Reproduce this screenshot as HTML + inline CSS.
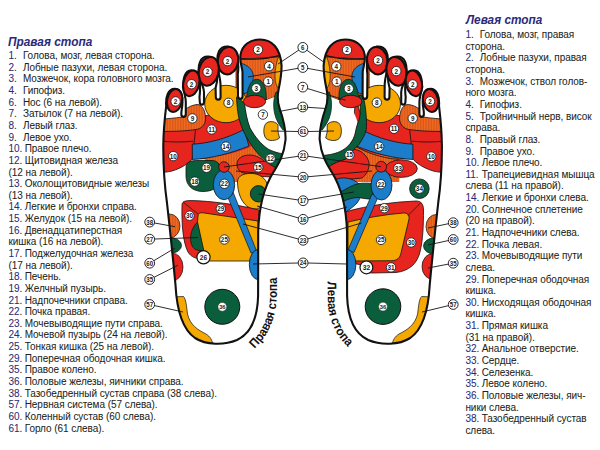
<!DOCTYPE html>
<html><head><meta charset="utf-8">
<style>
html,body{margin:0;padding:0;background:#fff;}
body{width:600px;height:450px;position:relative;overflow:hidden;font-family:"Liberation Sans",sans-serif;}
.leg{position:absolute;font-size:10px;letter-spacing:-0.05px;line-height:11.64px;color:#231f20;white-space:nowrap;-webkit-text-stroke:0.05px #231f20;}
.leg span{display:inline-block;color:#2b2a72;-webkit-text-stroke:0.05px #2b2a72;}
.leg span b{font-weight:normal;color:#231f20;-webkit-text-stroke:0.05px #231f20;}
.n1{width:14.5px;}
.n2{width:16.3px;}
.rl .n1{width:14.3px;}
.title{position:absolute;font-weight:bold;font-style:italic;font-size:13px;line-height:14px;color:#2b2a7a;white-space:nowrap;transform-origin:0 0;}
svg{position:absolute;left:0;top:0;}
</style></head><body>
<div class="title" style="left:8.3px;top:34.8px;transform:scaleX(0.912)">Правая стопа</div>
<div class="title" style="left:466px;top:12.9px;transform:scaleX(0.907)">Левая стопа</div>
<div class="leg ll" style="left:8.4px;top:50.1px">
<div><span class="n1">1<b>.</b></span>Голова, мозг, левая сторона.</div>
<div><span class="n1">2<b>.</b></span>Лобные пазухи, левая сторона.</div>
<div><span class="n1">3<b>.</b></span>Мозжечок, кора головного мозга.</div>
<div><span class="n1">4<b>.</b></span>Гипофиз.</div>
<div><span class="n1">6<b>.</b></span>Нос (6 на левой).</div>
<div><span class="n1">7<b>.</b></span>Затылок (7 на левой).</div>
<div><span class="n1">8<b>.</b></span>Левый глаз.</div>
<div><span class="n1">9<b>.</b></span>Левое ухо.</div>
<div><span class="n2">10<b>.</b></span>Правое плечо.</div>
<div><span class="n2">12<b>.</b></span>Щитовидная железа</div>
<div>(12 на левой).</div>
<div><span class="n2">13<b>.</b></span>Околощитовидные железы</div>
<div>(13 на левой).</div>
<div><span class="n2">14<b>.</b></span>Легкие и бронхи справа.</div>
<div><span class="n2">15<b>.</b></span>Желудок (15 на левой).</div>
<div><span class="n2">16<b>.</b></span>Двенадцатиперстная</div>
<div>кишка (16 на левой).</div>
<div><span class="n2">17<b>.</b></span>Поджелудочная железа</div>
<div>(17 на левой).</div>
<div><span class="n2">18<b>.</b></span>Печень.</div>
<div><span class="n2">19<b>.</b></span>Желчный пузырь.</div>
<div><span class="n2">21<b>.</b></span>Надпочечники справа.</div>
<div><span class="n2">22<b>.</b></span>Почка правая.</div>
<div><span class="n2">23<b>.</b></span>Мочевыводящие пути справа.</div>
<div><span class="n2">24<b>.</b></span>Мочевой пузырь (24 на левой).</div>
<div><span class="n2">25<b>.</b></span>Тонкая кишка (25 на левой).</div>
<div><span class="n2">29<b>.</b></span>Поперечная ободочная кишка.</div>
<div><span class="n2">35<b>.</b></span>Правое колено.</div>
<div><span class="n2">36<b>.</b></span>Половые железы, яичники справа.</div>
<div><span class="n2">38<b>.</b></span>Тазобедренный сустав справа (38 слева).</div>
<div><span class="n2">57<b>.</b></span>Нервная система (57 слева).</div>
<div><span class="n2">60<b>.</b></span>Коленный сустав (60 слева).</div>
<div><span class="n2">61<b>.</b></span>Горло (61 слева).</div>
</div>
<div class="leg rl" style="left:465.4px;top:29.1px">
<div><span class="n1">1<b>.</b></span>Голова, мозг, правая</div>
<div>сторона.</div>
<div><span class="n1">2<b>.</b></span>Лобные пазухи, правая</div>
<div>сторона.</div>
<div><span class="n1">3<b>.</b></span>Мозжечок, ствол голов-</div>
<div>ного мозга.</div>
<div><span class="n1">4<b>.</b></span>Гипофиз.</div>
<div><span class="n1">5<b>.</b></span>Тройничный нерв, висок</div>
<div>справа.</div>
<div><span class="n1">8<b>.</b></span>Правый глаз.</div>
<div><span class="n1">9<b>.</b></span>Правое ухо.</div>
<div><span class="n2">10<b>.</b></span>Левое плечо.</div>
<div><span class="n2">11<b>.</b></span>Трапециевидная мышца</div>
<div>слева (11 на правой).</div>
<div><span class="n2">14<b>.</b></span>Легкие и бронхи слева.</div>
<div><span class="n2">20<b>.</b></span>Солнечное сплетение</div>
<div>(20 на правой).</div>
<div><span class="n2">21<b>.</b></span>Надпочечники слева.</div>
<div><span class="n2">22<b>.</b></span>Почка левая.</div>
<div><span class="n2">23<b>.</b></span>Мочевыводящие пути</div>
<div>слева.</div>
<div><span class="n2">29<b>.</b></span>Поперечная ободочная</div>
<div>кишка.</div>
<div><span class="n2">30<b>.</b></span>Нисходящая ободочная</div>
<div>кишка.</div>
<div><span class="n2">31<b>.</b></span>Прямая кишка</div>
<div>(31 на правой).</div>
<div><span class="n2">32<b>.</b></span>Анальное отверстие.</div>
<div><span class="n2">33<b>.</b></span>Сердце.</div>
<div><span class="n2">34<b>.</b></span>Селезенка.</div>
<div><span class="n2">35<b>.</b></span>Левое колено.</div>
<div><span class="n2">36<b>.</b></span>Половые железы, яич-</div>
<div>ники слева.</div>
<div><span class="n2">38<b>.</b></span>Тазобедренный сустав</div>
<div>слева.</div>
</div>
<svg width="600" height="450" viewBox="0 0 600 450" font-family="Liberation Sans, sans-serif"><defs><pattern id="st" width="1.6" height="4" patternUnits="userSpaceOnUse"><rect width="1.6" height="4" fill="#f06c1e"/><rect x="1.05" width="0.55" height="4" fill="#d04a18"/></pattern><clipPath id="cR"><path d="M260,39.5 C250,39.5 242,45 240.5,55 C239.5,62 242,66 242.5,72 L242.6,96 C242.6,99.8 238,99.8 238,96 L237.8,74 C239,66 238.5,48 228,46.5 C219,46 216.5,54 217.5,64 C218,72 220.3,78 220.5,84 L220.6,97 C220.6,100.5 215.8,100.5 215.8,97 L215.6,88 C218.5,78 218.5,57.5 208.5,56.5 C200,56 197.5,65 199,75 C200,82 203.8,86 204,92 L204,102 C204,105.5 199.8,105.5 199.8,102 L199.5,97 C201,85 199.5,70.5 191.5,70.2 C185,70 182.5,79 183.5,88 C184,94 185.8,97 185.8,102 L185.8,114 C185.8,117.8 181.3,117.8 181.3,114 L181.5,111 C184,98 181.5,89 175,88.8 C168,88.6 165.5,97 166.2,106 C165,116 163.5,128 163.3,145 C163.2,162 164.5,185 167,203 C170,230 173,258 175.5,285 C176.8,310 182,329 195,338 C206,345 224,345.5 237,340 C252,333 257.5,317 258.1,296 L258.2,232 C258.8,208 263.5,188 273.5,172 C279,163 284,155 285.5,140 C286,130 283,118 279.5,108 C277.5,102 277.3,96 278.5,90 C280,83 281.5,74 281.6,66 C280.5,48 272,39.5 260,39.5 Z"/></clipPath><clipPath id="cL"><path d="M 345.2 39.5 C 355.2 39.5 363.2 45 364.7 55 C 365.7 62 363.2 66 362.7 72 L 362.6 96 C 362.6 99.8 367.2 99.8 367.2 96 L 367.4 74 C 366.2 66 366.7 48 377.2 46.5 C 386.2 46 388.7 54 387.7 64 C 387.2 72 384.9 78 384.7 84 L 384.6 97 C 384.6 100.5 389.4 100.5 389.4 97 L 389.6 88 C 386.7 78 386.7 57.5 396.7 56.5 C 405.2 56 407.7 65 406.2 75 C 405.2 82 401.4 86 401.2 92 L 401.2 102 C 401.2 105.5 405.4 105.5 405.4 102 L 405.7 97 C 404.2 85 405.7 70.5 413.7 70.2 C 420.2 70 422.7 79 421.7 88 C 421.2 94 419.4 97 419.4 102 L 419.4 114 C 419.4 117.8 423.9 117.8 423.9 114 L 423.7 111 C 421.2 98 423.7 89 430.2 88.8 C 437.2 88.6 439.7 97 439 106 C 440.2 116 441.7 128 441.9 145 C 442 162 440.7 185 438.2 203 C 435.2 230 432.2 258 429.7 285 C 428.4 310 423.2 329 410.2 338 C 399.2 345 381.2 345.5 368.2 340 C 353.2 333 347.7 317 347.1 296 L 347 232 C 346.4 208 341.7 188 331.7 172 C 326.2 163 321.2 155 319.7 140 C 319.2 130 322.2 118 325.7 108 C 327.7 102 327.9 96 326.7 90 C 325.2 83 323.7 74 323.6 66 C 324.7 48 333.2 39.5 345.2 39.5 Z"/></clipPath><path id="arcR" d="M254.5,348.5 C265,338 276.5,323 277,293 L277,260" fill="none"/><path id="arcL" d="M327.5,281.5 L327.8,300 C328,322 337,337 351,350" fill="none"/></defs><path d="M260,39.5 C250,39.5 242,45 240.5,55 C239.5,62 242,66 242.5,72 L242.6,96 C242.6,99.8 238,99.8 238,96 L237.8,74 C239,66 238.5,48 228,46.5 C219,46 216.5,54 217.5,64 C218,72 220.3,78 220.5,84 L220.6,97 C220.6,100.5 215.8,100.5 215.8,97 L215.6,88 C218.5,78 218.5,57.5 208.5,56.5 C200,56 197.5,65 199,75 C200,82 203.8,86 204,92 L204,102 C204,105.5 199.8,105.5 199.8,102 L199.5,97 C201,85 199.5,70.5 191.5,70.2 C185,70 182.5,79 183.5,88 C184,94 185.8,97 185.8,102 L185.8,114 C185.8,117.8 181.3,117.8 181.3,114 L181.5,111 C184,98 181.5,89 175,88.8 C168,88.6 165.5,97 166.2,106 C165,116 163.5,128 163.3,145 C163.2,162 164.5,185 167,203 C170,230 173,258 175.5,285 C176.8,310 182,329 195,338 C206,345 224,345.5 237,340 C252,333 257.5,317 258.1,296 L258.2,232 C258.8,208 263.5,188 273.5,172 C279,163 284,155 285.5,140 C286,130 283,118 279.5,108 C277.5,102 277.3,96 278.5,90 C280,83 281.5,74 281.6,66 C280.5,48 272,39.5 260,39.5 Z" fill="#fff"/><g clip-path="url(#cR)"><path d="M236,30 L290,30 L290,58 C275,55 255,60 236,58.5 Z" fill="#e8241e"/><path d="M236,58.5 C255,60 275,55 290,58 L290,92 L282,94 C276,96 270,99 264,101 L236,101 Z" fill="url(#st)" stroke="#111" stroke-width="0.7"/><path d="M236,58.5 C250,59.8 265,59.5 280,55.3" fill="none" stroke="#111" stroke-width="1.4"/><path d="M278.5,57 C275,66 274.5,76 275.5,82 C276.5,86 278,88.5 280,90 L288,90 L288,57 Z" fill="#f5a800" stroke="#111" stroke-width="0.6"/><path d="M240,63 C247,64.5 252.5,69 253.2,75 C253.8,82 251,88 246.5,93 L238,95 Z" fill="#1c7dcb" stroke="#111" stroke-width="0.7"/><path d="M246.5,99 C247,90 250,81 255,79.5 C261,78 265,84 266,92 L266.5,100 Z" fill="#0a5e3c" stroke="#111" stroke-width="0.7"/><path d="M158,124 L205,116 L250,104 L256,160 L193,158.5 C189,163 182,168 172,171 C168,172 163,172.5 158,173 Z" fill="#e8241e" stroke="#111" stroke-width="0.8"/><path d="M158,119.5 C165,118.8 175,118.2 182,117 L184.5,110 C188,107 193,104.5 198,104.5 C203,105.5 206,112 205.5,120 C205,125 201,129 196,129.5 C186,131 175,131.5 158,131.5 Z" fill="url(#st)" stroke="#111" stroke-width="0.8"/><path d="M160,141 C172,142.3 182,142.3 193,141.2 M195.5,130 L192.3,159" fill="none" stroke="#111" stroke-width="0.8"/><ellipse cx="226" cy="104" rx="21.3" ry="18.7" fill="#f5a800" stroke="#111" stroke-width="0.8"/><path d="M205,157 C225,156 240,152 252,146 L264,160 L262,182 L206,182 Z" fill="url(#st)"/><path d="M192.3,144.2 C207,143.5 226,139 244,129.5 L249,146 C232,153 212,158.5 192.3,159.5 Z" fill="#1c7dcb" stroke="#111" stroke-width="0.8"/><path d="M244.5,101 C245.5,112 247,120 250,128 C255,137 261,144 268,149 C272,151 279,154 290,154 L290,92 L282,94 C276,96 270,99 264,101 Z" fill="#fff"/><path d="M236.5,97 C237,108 238,116 240,122 C243,132 249,143 258,153.7 C264,160 271,165 280,171 L287,166 L287,154 C279,154 272,151 268,149 C261,144 255,137 250,128 C247,120 245.5,112 244.5,103 Z" fill="#0a5e3c" stroke="#111" stroke-width="0.8"/><ellipse cx="254.5" cy="101.5" rx="11.2" ry="6.2" fill="#e8241e" stroke="#111" stroke-width="0.8"/><path d="M276,92 C273.5,98 273,106 274.5,113 C276,120 279,125 283,130 L292,130 L292,92 Z" fill="#0a5e3c" stroke="#111" stroke-width="0.7"/><path d="M278,125 C276,121.5 270,120.5 266.5,123 C263,126 263,135 266,138.5 C269,141.5 276,141 279.5,138 C279,135 277.5,132 278,129 Z" fill="#f5a800" stroke="#111" stroke-width="0.8"/><path d="M237,164 C237,158 243,155 250,155 C256,155 262,159 266,162 C272,166 276,168 280,170 L276,177 C265,177 250,176 241,172 C238,170 237,167 237,164 Z" fill="#e8241e" stroke="#111" stroke-width="0.8"/><path d="M237.5,182 C237.5,175 245,173 253,173.5 C262,174.5 268,180 268,190 C268,200 263,207 257,209 C249,210 243,204 240,196 C238.5,192 237.5,187 237.5,182 Z" fill="#f5a800" stroke="#111" stroke-width="0.8"/><ellipse cx="258.5" cy="193.8" rx="8.2" ry="8.2" fill="#0a5e3c" stroke="#111" stroke-width="0.8"/><path d="M186,168 C186,162 190,160.5 198,160.5 L212,160.5 C217,160.5 220.5,164 220.5,170 L220.5,178 C220.5,187 213,191.5 203,191.5 C192,191.5 186,185 186,176 Z" fill="#0a5e3c" stroke="#111" stroke-width="0.8"/><path d="M182,205 C182,201 186,200.5 192,200.6 C210,201 235,204 259,210 L259,224 L222,258 L203,259 C196,259 191,257 188,252 C183,242 181.5,225 182,205 Z" fill="#e8241e" stroke="#111" stroke-width="0.8"/><path d="M198.5,221 C191.5,227 189.5,236 191,243 C192.5,248 195,250 199,250.5 L207,250.5 L207,221 Z" fill="#0a5e3c" stroke="#111" stroke-width="0.7"/><path d="M198,216 C198,213 200,212.5 203,212.8 L258,221 L259,261 L210,261 C207,261 205.5,259 205,256 L197.5,222 Z" fill="#f5a800" stroke="#111" stroke-width="0.8"/><path d="M183,202 L198,214" fill="none" stroke="#111" stroke-width="0.7"/><path d="M226.5,194 L251,253 L257,252 L233,192 Z" fill="#1c7dcb" stroke="#111" stroke-width="0.7"/><ellipse cx="224" cy="184.7" rx="10.7" ry="15" fill="#1c7dcb" stroke="#111" stroke-width="0.8"/><ellipse cx="258.5" cy="264.5" rx="9.2" ry="15.2" fill="#1c7dcb" stroke="#111" stroke-width="0.8"/><ellipse cx="224" cy="167" rx="5.3" ry="5.3" fill="#e8241e" stroke="#111" stroke-width="0.8"/><ellipse cx="169.5" cy="226" rx="10.5" ry="12" fill="url(#st)" stroke="#111" stroke-width="0.7"/><ellipse cx="171.5" cy="245.5" rx="10" ry="7.6" fill="#0a5e3c" stroke="#111" stroke-width="0.7"/><ellipse cx="172.5" cy="267" rx="10.5" ry="13.8" fill="#e8241e" stroke="#111" stroke-width="0.7"/><ellipse cx="222.3" cy="306.8" rx="17.5" ry="17.5" fill="#0a5e3c" stroke="#111" stroke-width="1.0"/><path d="M170,297 L183.5,296.5 C186,299 186.5,306 187.5,314 C190,325 198,330 206,334 C210,336.5 212.5,340 213,346 L180,346 L170,320 Z" fill="#f5a800" stroke="#111" stroke-width="0.7"/></g><path d="M260,39.5 C250,39.5 242,45 240.5,55 C239.5,62 242,66 242.5,72 L242.6,96 C242.6,99.8 238,99.8 238,96 L237.8,74 C239,66 238.5,48 228,46.5 C219,46 216.5,54 217.5,64 C218,72 220.3,78 220.5,84 L220.6,97 C220.6,100.5 215.8,100.5 215.8,97 L215.6,88 C218.5,78 218.5,57.5 208.5,56.5 C200,56 197.5,65 199,75 C200,82 203.8,86 204,92 L204,102 C204,105.5 199.8,105.5 199.8,102 L199.5,97 C201,85 199.5,70.5 191.5,70.2 C185,70 182.5,79 183.5,88 C184,94 185.8,97 185.8,102 L185.8,114 C185.8,117.8 181.3,117.8 181.3,114 L181.5,111 C184,98 181.5,89 175,88.8 C168,88.6 165.5,97 166.2,106 C165,116 163.5,128 163.3,145 C163.2,162 164.5,185 167,203 C170,230 173,258 175.5,285 C176.8,310 182,329 195,338 C206,345 224,345.5 237,340 C252,333 257.5,317 258.1,296 L258.2,232 C258.8,208 263.5,188 273.5,172 C279,163 284,155 285.5,140 C286,130 283,118 279.5,108 C277.5,102 277.3,96 278.5,90 C280,83 281.5,74 281.6,66 C280.5,48 272,39.5 260,39.5 Z" fill="none" stroke="#111" stroke-width="2.1"/><ellipse cx="228" cy="60.6" rx="10.2" ry="13.8" fill="#e8241e" stroke="#111" stroke-width="2.1" transform="rotate(8 228 60.6)"/><ellipse cx="208.7" cy="71.3" rx="9.9" ry="14.6" fill="#e8241e" stroke="#111" stroke-width="2.1" transform="rotate(12 208.7 71.3)"/><ellipse cx="191.3" cy="83.3" rx="8.0" ry="13.0" fill="#e8241e" stroke="#111" stroke-width="2.1" transform="rotate(13 191.3 83.3)"/><ellipse cx="174.6" cy="100.5" rx="7.5" ry="11.6" fill="#e8241e" stroke="#111" stroke-width="2.1" transform="rotate(12 174.6 100.5)"/><path d="M 345.2 39.5 C 355.2 39.5 363.2 45 364.7 55 C 365.7 62 363.2 66 362.7 72 L 362.6 96 C 362.6 99.8 367.2 99.8 367.2 96 L 367.4 74 C 366.2 66 366.7 48 377.2 46.5 C 386.2 46 388.7 54 387.7 64 C 387.2 72 384.9 78 384.7 84 L 384.6 97 C 384.6 100.5 389.4 100.5 389.4 97 L 389.6 88 C 386.7 78 386.7 57.5 396.7 56.5 C 405.2 56 407.7 65 406.2 75 C 405.2 82 401.4 86 401.2 92 L 401.2 102 C 401.2 105.5 405.4 105.5 405.4 102 L 405.7 97 C 404.2 85 405.7 70.5 413.7 70.2 C 420.2 70 422.7 79 421.7 88 C 421.2 94 419.4 97 419.4 102 L 419.4 114 C 419.4 117.8 423.9 117.8 423.9 114 L 423.7 111 C 421.2 98 423.7 89 430.2 88.8 C 437.2 88.6 439.7 97 439 106 C 440.2 116 441.7 128 441.9 145 C 442 162 440.7 185 438.2 203 C 435.2 230 432.2 258 429.7 285 C 428.4 310 423.2 329 410.2 338 C 399.2 345 381.2 345.5 368.2 340 C 353.2 333 347.7 317 347.1 296 L 347 232 C 346.4 208 341.7 188 331.7 172 C 326.2 163 321.2 155 319.7 140 C 319.2 130 322.2 118 325.7 108 C 327.7 102 327.9 96 326.7 90 C 325.2 83 323.7 74 323.6 66 C 324.7 48 333.2 39.5 345.2 39.5 Z" fill="#fff"/><g clip-path="url(#cL)"><path d="M 369.2 30 L 315.2 30 L 315.2 58 C 330.2 55 350.2 60 369.2 58.5 Z" fill="#e8241e"/><path d="M 369.2 58.5 C 350.2 60 330.2 55 315.2 58 L 315.2 92 L 323.2 94 C 329.2 96 335.2 99 341.2 101 L 369.2 101 Z" fill="url(#st)" stroke="#111" stroke-width="0.7"/><path d="M 369.2 58.5 C 355.2 59.8 340.2 59.5 325.2 55.3" fill="none" stroke="#111" stroke-width="1.4"/><path d="M 326.7 57 C 330.2 66 330.7 76 329.7 82 C 328.7 86 327.2 88.5 325.2 90 L 317.2 90 L 317.2 57 Z" fill="#f5a800" stroke="#111" stroke-width="0.6"/><path d="M 365.2 63 C 358.2 64.5 352.7 69 352 75 C 351.4 82 354.2 88 358.7 93 L 367.2 95 Z" fill="#1c7dcb" stroke="#111" stroke-width="0.7"/><path d="M 358.7 99 C 358.2 90 355.2 81 350.2 79.5 C 344.2 78 340.2 84 339.2 92 L 338.7 100 Z" fill="#0a5e3c" stroke="#111" stroke-width="0.7"/><path d="M 447.2 124 L 400.2 116 L 355.2 104 L 349.2 160 L 412.2 158.5 C 416.2 163 423.2 168 433.2 171 C 437.2 172 442.2 172.5 447.2 173 Z" fill="#e8241e" stroke="#111" stroke-width="0.8"/><path d="M 447.2 119.5 C 440.2 118.8 430.2 118.2 423.2 117 L 420.7 110 C 417.2 107 412.2 104.5 407.2 104.5 C 402.2 105.5 399.2 112 399.7 120 C 400.2 125 404.2 129 409.2 129.5 C 419.2 131 430.2 131.5 447.2 131.5 Z" fill="url(#st)" stroke="#111" stroke-width="0.8"/><path d="M 445.2 141 C 433.2 142.3 423.2 142.3 412.2 141.2 M 409.7 130 L 412.9 159" fill="none" stroke="#111" stroke-width="0.8"/><ellipse cx="379.2" cy="104" rx="21.3" ry="18.7" fill="#f5a800" stroke="#111" stroke-width="0.8"/><path d="M 400.2 157 C 380.2 156 365.2 152 353.2 146 L 341.2 160 L 343.2 182 L 399.2 182 Z" fill="url(#st)"/><path d="M 412.9 144.2 C 398.2 143.5 379.2 139 361.2 129.5 L 356.2 146 C 373.2 153 393.2 158.5 412.9 159.5 Z" fill="#1c7dcb" stroke="#111" stroke-width="0.8"/><path d="M341,101 C345,104 349,106 351,108 C354,112 356,117 357.5,122 C357,126 356,129 355.5,132 C354.5,137 352.5,140.5 350.5,143.2 C347,147.5 343.5,150 339.4,151.8 C334,154 329,155.2 314,156 L314,92 L323.2,94 C329.2,96 335.2,99 341,101 Z" fill="#fff"/><path d="M350,143 C360,150 375,156 392,158.8 L399,159.2 L399,178 L350,178 Z" fill="url(#st)"/><path d="M350,143 C360,150 375,156 392,158.8 L399,159.2" fill="none" stroke="#111" stroke-width="0.8"/><path d="M359,95 C361,103 361,112 359,120 C357.5,124 356,128 355.5,132 C354.5,137 352.5,140.5 350.5,143.2 C347,147.5 343.5,150 339.4,151.8 C334,154 329,155.2 316,156 L317,175 C321,172.5 323,171 326,168.9 C329,166.8 331,165.2 333.3,164 C338,161.8 342,160.5 345.6,159.1 C349,156 352,152 354.1,149.3 C356,147.5 357.5,146 359,144.4 C362,140 365,135 366.3,129.8 C367,122 366,106 363,96 Z" fill="#0a5e3c" stroke="#111" stroke-width="0.8"/><ellipse cx="350.7" cy="101.5" rx="11.2" ry="6.2" fill="#e8241e" stroke="#111" stroke-width="0.8"/><path d="M 329.2 92 C 331.7 98 332.2 106 330.7 113 C 329.2 120 326.2 125 322.2 130 L 313.2 130 L 313.2 92 Z" fill="#0a5e3c" stroke="#111" stroke-width="0.7"/><path d="M 327.2 125 C 329.2 121.5 335.2 120.5 338.7 123 C 342.2 126 342.2 135 339.2 138.5 C 336.2 141.5 329.2 141 325.7 138 C 326.2 135 327.7 132 327.2 129 Z" fill="#f5a800" stroke="#111" stroke-width="0.8"/><path d="M317,175 C321,172.5 323,171 326,168.9 C329,166.8 331,165.2 333.3,164 C338,161.8 342,160.5 345.6,159.1 C349,156 352,152 354.1,149.3 C361,150 368,156 369,163 C369.5,170 366,175 362,178 L330,181 L317,181 Z" fill="#e8241e" stroke="#111" stroke-width="0.8"/><path d="M333,181 C340,176 352,177 359,184 C363,190 361,198 357,203 C353,207 349,210 346,212 C342,200 338,190 333,181 Z" fill="#1c7dcb" stroke="#111" stroke-width="0.8"/><path d="M339,193 C346,189 352,185 359,183.5 C363,183 368,183 373,183.5 L373,199 C368,199.5 362,198 358,197.5 C353,197.5 348,199 343,201.5 Z" fill="#0a5e3c" stroke="#111" stroke-width="0.8"/><ellipse cx="401.3" cy="168.6" rx="16" ry="8.8" fill="#e8241e" stroke="#111" stroke-width="0.8"/><path d="M345,212 C360,207.5 380,204 400,202 L416,201 C421,201 423.5,204 423.5,210 C423.5,225 423,240 420,252 C417,264 409,271 396,272.5 L372,273 C366,273 362,270 362,265 L346,262 Z" fill="#e8241e" stroke="#111" stroke-width="0.8"/><path d="M348,222 C365,218 385,214.5 403,213 C407,212.8 409.5,214.5 409,219 L401,253 C400,258 397,260.5 392,260.7 L348,261 Z" fill="#f5a800" stroke="#111" stroke-width="0.8"/><path d="M408,215.5 L421,202.5" fill="none" stroke="#111" stroke-width="0.7"/><path d="M372,194 L348,250 L354,252.5 L378.5,196 Z" fill="#1c7dcb" stroke="#111" stroke-width="0.7"/><ellipse cx="381.5" cy="185" rx="10.5" ry="15" fill="#1c7dcb" stroke="#111" stroke-width="0.8"/><ellipse cx="346.7" cy="264.5" rx="9.2" ry="15.2" fill="#1c7dcb" stroke="#111" stroke-width="0.8"/><ellipse cx="381.2" cy="166.7" rx="5.4" ry="5.4" fill="#e8241e" stroke="#111" stroke-width="0.8"/><ellipse cx="419.4" cy="188.7" rx="9.8" ry="9.8" fill="#0a5e3c" stroke="#111" stroke-width="0.8"/><ellipse cx="436" cy="226.5" rx="10" ry="12" fill="url(#st)" stroke="#111" stroke-width="0.7"/><ellipse cx="434" cy="246" rx="10.5" ry="8" fill="#0a5e3c" stroke="#111" stroke-width="0.7"/><ellipse cx="432.5" cy="266.5" rx="10.5" ry="12.8" fill="#e8241e" stroke="#111" stroke-width="0.7"/><ellipse cx="383" cy="306.6" rx="17.8" ry="17.8" fill="#0a5e3c" stroke="#111" stroke-width="1.0"/><path d="M435,297 L421.7,296.5 C419,299 418.6,306 417.6,314 C415,325 407,330 399,334 C395,336.5 392.5,340 392,346 L425,346 L435,320 Z" fill="#f5a800" stroke="#111" stroke-width="0.7"/></g><path d="M 345.2 39.5 C 355.2 39.5 363.2 45 364.7 55 C 365.7 62 363.2 66 362.7 72 L 362.6 96 C 362.6 99.8 367.2 99.8 367.2 96 L 367.4 74 C 366.2 66 366.7 48 377.2 46.5 C 386.2 46 388.7 54 387.7 64 C 387.2 72 384.9 78 384.7 84 L 384.6 97 C 384.6 100.5 389.4 100.5 389.4 97 L 389.6 88 C 386.7 78 386.7 57.5 396.7 56.5 C 405.2 56 407.7 65 406.2 75 C 405.2 82 401.4 86 401.2 92 L 401.2 102 C 401.2 105.5 405.4 105.5 405.4 102 L 405.7 97 C 404.2 85 405.7 70.5 413.7 70.2 C 420.2 70 422.7 79 421.7 88 C 421.2 94 419.4 97 419.4 102 L 419.4 114 C 419.4 117.8 423.9 117.8 423.9 114 L 423.7 111 C 421.2 98 423.7 89 430.2 88.8 C 437.2 88.6 439.7 97 439 106 C 440.2 116 441.7 128 441.9 145 C 442 162 440.7 185 438.2 203 C 435.2 230 432.2 258 429.7 285 C 428.4 310 423.2 329 410.2 338 C 399.2 345 381.2 345.5 368.2 340 C 353.2 333 347.7 317 347.1 296 L 347 232 C 346.4 208 341.7 188 331.7 172 C 326.2 163 321.2 155 319.7 140 C 319.2 130 322.2 118 325.7 108 C 327.7 102 327.9 96 326.7 90 C 325.2 83 323.7 74 323.6 66 C 324.7 48 333.2 39.5 345.2 39.5 Z" fill="none" stroke="#111" stroke-width="2.1"/><ellipse cx="377.2" cy="60.6" rx="10.2" ry="13.8" fill="#e8241e" stroke="#111" stroke-width="2.1" transform="rotate(-8 377.2 60.6)"/><ellipse cx="396.5" cy="71.3" rx="9.9" ry="14.6" fill="#e8241e" stroke="#111" stroke-width="2.1" transform="rotate(-12 396.5 71.3)"/><ellipse cx="413.9" cy="83.3" rx="8.0" ry="13.0" fill="#e8241e" stroke="#111" stroke-width="2.1" transform="rotate(-13 413.9 83.3)"/><ellipse cx="430.6" cy="100.5" rx="7.5" ry="11.6" fill="#e8241e" stroke="#111" stroke-width="2.1" transform="rotate(-12 430.6 100.5)"/><line x1="302.8" y1="47.4" x2="278" y2="64" stroke="#151515" stroke-width="0.9"/><line x1="302.8" y1="47.4" x2="325" y2="63" stroke="#151515" stroke-width="0.9"/><line x1="302.8" y1="67.5" x2="248" y2="77" stroke="#151515" stroke-width="0.9"/><line x1="302.8" y1="67.5" x2="355" y2="77" stroke="#151515" stroke-width="0.9"/><line x1="302.8" y1="87.1" x2="345.6" y2="100.2" stroke="#151515" stroke-width="0.9"/><line x1="302.8" y1="107" x2="279" y2="111.5" stroke="#151515" stroke-width="0.9"/><line x1="302.8" y1="107" x2="326" y2="108.5" stroke="#151515" stroke-width="0.9"/><line x1="303.1" y1="131.6" x2="271" y2="131" stroke="#151515" stroke-width="0.9"/><line x1="303.1" y1="131.6" x2="334" y2="131" stroke="#151515" stroke-width="0.9"/><line x1="303.1" y1="155.6" x2="224" y2="167" stroke="#151515" stroke-width="0.9"/><line x1="303.1" y1="155.6" x2="381" y2="166.7" stroke="#151515" stroke-width="0.9"/><line x1="303.1" y1="177.2" x2="236" y2="171" stroke="#151515" stroke-width="0.9"/><line x1="303.1" y1="177.2" x2="372" y2="171" stroke="#151515" stroke-width="0.9"/><line x1="303.1" y1="200.7" x2="258.5" y2="194" stroke="#151515" stroke-width="0.9"/><line x1="303.1" y1="200.7" x2="354" y2="192" stroke="#151515" stroke-width="0.9"/><line x1="303.1" y1="219.3" x2="257" y2="206" stroke="#151515" stroke-width="0.9"/><line x1="303.1" y1="219.3" x2="347" y2="207" stroke="#151515" stroke-width="0.9"/><line x1="303.1" y1="240.3" x2="243" y2="224" stroke="#151515" stroke-width="0.9"/><line x1="303.1" y1="240.3" x2="361.5" y2="223" stroke="#151515" stroke-width="0.9"/><line x1="303.1" y1="262.9" x2="253" y2="264" stroke="#151515" stroke-width="0.9"/><line x1="303.1" y1="262.9" x2="347" y2="264" stroke="#151515" stroke-width="0.9"/><line x1="149.7" y1="222.1" x2="175" y2="226.7" stroke="#151515" stroke-width="0.9"/><line x1="149.7" y1="239.2" x2="198" y2="237.5" stroke="#151515" stroke-width="0.9"/><line x1="149.7" y1="263.2" x2="175" y2="248" stroke="#151515" stroke-width="0.9"/><line x1="149.7" y1="279.5" x2="177.7" y2="265.3" stroke="#151515" stroke-width="0.9"/><line x1="149.7" y1="304.5" x2="183" y2="312" stroke="#151515" stroke-width="0.9"/><line x1="453.2" y1="222.7" x2="428" y2="228" stroke="#151515" stroke-width="0.9"/><line x1="453.2" y1="239.5" x2="428" y2="245" stroke="#151515" stroke-width="0.9"/><line x1="453.2" y1="263.2" x2="428" y2="268" stroke="#151515" stroke-width="0.9"/><line x1="453.2" y1="304.5" x2="422" y2="312" stroke="#151515" stroke-width="0.9"/><circle cx="302.8" cy="47.4" r="4.9" fill="#fff" stroke="#111" stroke-width="0.9"/><text transform="translate(302.8 49.99) scale(0.88 1)" font-size="7" text-anchor="middle" fill="#1a1a1a" font-weight="bold">6</text><circle cx="302.8" cy="67.5" r="4.9" fill="#fff" stroke="#111" stroke-width="0.9"/><text transform="translate(302.8 70.09) scale(0.88 1)" font-size="7" text-anchor="middle" fill="#1a1a1a" font-weight="bold">5</text><circle cx="302.8" cy="87.1" r="4.9" fill="#fff" stroke="#111" stroke-width="0.9"/><text transform="translate(302.8 89.69) scale(0.88 1)" font-size="7" text-anchor="middle" fill="#1a1a1a" font-weight="bold">7</text><circle cx="302.8" cy="107" r="4.9" fill="#fff" stroke="#111" stroke-width="0.9"/><text transform="translate(302.8 109.59) scale(0.88 1)" font-size="7" text-anchor="middle" fill="#1a1a1a" font-weight="bold">13</text><circle cx="303.1" cy="131.6" r="4.9" fill="#fff" stroke="#111" stroke-width="0.9"/><text transform="translate(303.1 134.19) scale(0.88 1)" font-size="7" text-anchor="middle" fill="#1a1a1a" font-weight="bold">61</text><circle cx="303.1" cy="155.6" r="4.9" fill="#fff" stroke="#111" stroke-width="0.9"/><text transform="translate(303.1 158.19) scale(0.88 1)" font-size="7" text-anchor="middle" fill="#1a1a1a" font-weight="bold">21</text><circle cx="303.1" cy="177.2" r="4.9" fill="#fff" stroke="#111" stroke-width="0.9"/><text transform="translate(303.1 179.79) scale(0.88 1)" font-size="7" text-anchor="middle" fill="#1a1a1a" font-weight="bold">20</text><circle cx="303.1" cy="200.7" r="4.9" fill="#fff" stroke="#111" stroke-width="0.9"/><text transform="translate(303.1 203.29) scale(0.88 1)" font-size="7" text-anchor="middle" fill="#1a1a1a" font-weight="bold">17</text><circle cx="303.1" cy="219.3" r="4.9" fill="#fff" stroke="#111" stroke-width="0.9"/><text transform="translate(303.1 221.89) scale(0.88 1)" font-size="7" text-anchor="middle" fill="#1a1a1a" font-weight="bold">16</text><circle cx="303.1" cy="240.3" r="4.9" fill="#fff" stroke="#111" stroke-width="0.9"/><text transform="translate(303.1 242.89) scale(0.88 1)" font-size="7" text-anchor="middle" fill="#1a1a1a" font-weight="bold">23</text><circle cx="303.1" cy="262.9" r="4.9" fill="#fff" stroke="#111" stroke-width="0.9"/><text transform="translate(303.1 265.49) scale(0.88 1)" font-size="7" text-anchor="middle" fill="#1a1a1a" font-weight="bold">24</text><circle cx="149.7" cy="222.1" r="4.9" fill="#fff" stroke="#111" stroke-width="0.9"/><text transform="translate(149.7 224.69) scale(0.88 1)" font-size="7" text-anchor="middle" fill="#1a1a1a" font-weight="bold">38</text><circle cx="149.7" cy="239.2" r="4.9" fill="#fff" stroke="#111" stroke-width="0.9"/><text transform="translate(149.7 241.79) scale(0.88 1)" font-size="7" text-anchor="middle" fill="#1a1a1a" font-weight="bold">27</text><circle cx="149.7" cy="263.2" r="4.9" fill="#fff" stroke="#111" stroke-width="0.9"/><text transform="translate(149.7 265.79) scale(0.88 1)" font-size="7" text-anchor="middle" fill="#1a1a1a" font-weight="bold">60</text><circle cx="149.7" cy="279.5" r="4.9" fill="#fff" stroke="#111" stroke-width="0.9"/><text transform="translate(149.7 282.09) scale(0.88 1)" font-size="7" text-anchor="middle" fill="#1a1a1a" font-weight="bold">35</text><circle cx="149.7" cy="304.5" r="4.9" fill="#fff" stroke="#111" stroke-width="0.9"/><text transform="translate(149.7 307.09) scale(0.88 1)" font-size="7" text-anchor="middle" fill="#1a1a1a" font-weight="bold">57</text><circle cx="453.2" cy="222.7" r="4.9" fill="#fff" stroke="#111" stroke-width="0.9"/><text transform="translate(453.2 225.29) scale(0.88 1)" font-size="7" text-anchor="middle" fill="#1a1a1a" font-weight="bold">38</text><circle cx="453.2" cy="239.5" r="4.9" fill="#fff" stroke="#111" stroke-width="0.9"/><text transform="translate(453.2 242.09) scale(0.88 1)" font-size="7" text-anchor="middle" fill="#1a1a1a" font-weight="bold">60</text><circle cx="453.2" cy="263.2" r="4.9" fill="#fff" stroke="#111" stroke-width="0.9"/><text transform="translate(453.2 265.79) scale(0.88 1)" font-size="7" text-anchor="middle" fill="#1a1a1a" font-weight="bold">35</text><circle cx="453.2" cy="304.5" r="4.9" fill="#fff" stroke="#111" stroke-width="0.9"/><text transform="translate(453.2 307.09) scale(0.88 1)" font-size="7" text-anchor="middle" fill="#1a1a1a" font-weight="bold">57</text><circle cx="258" cy="49.7" r="4.7" fill="#fff" stroke="#222" stroke-width="0.9"/><text transform="translate(258 52.18) scale(0.95 1)" font-size="6.7" text-anchor="middle" fill="#1a1a1a" font-weight="bold">2</text><circle cx="269.1" cy="66.2" r="4.7" fill="#fff" stroke="#222" stroke-width="0.9"/><text transform="translate(269.1 68.68) scale(0.95 1)" font-size="6.7" text-anchor="middle" fill="#1a1a1a" font-weight="bold">4</text><circle cx="268.2" cy="81.6" r="4.7" fill="#fff" stroke="#222" stroke-width="0.9"/><text transform="translate(268.2 84.08) scale(0.95 1)" font-size="6.7" text-anchor="middle" fill="#1a1a1a" font-weight="bold">1</text><circle cx="256.3" cy="88.3" r="4.7" fill="#fff" stroke="#222" stroke-width="0.9"/><text transform="translate(256.3 90.78) scale(0.95 1)" font-size="6.7" text-anchor="middle" fill="#1a1a1a" font-weight="bold">3</text><circle cx="227.6" cy="61.1" r="4.7" fill="#fff" stroke="#222" stroke-width="0.9"/><text transform="translate(227.6 63.58) scale(0.95 1)" font-size="6.7" text-anchor="middle" fill="#1a1a1a" font-weight="bold">2</text><circle cx="207.6" cy="71.8" r="4.7" fill="#fff" stroke="#222" stroke-width="0.9"/><text transform="translate(207.6 74.28) scale(0.95 1)" font-size="6.7" text-anchor="middle" fill="#1a1a1a" font-weight="bold">2</text><circle cx="191.6" cy="84.2" r="4.7" fill="#fff" stroke="#222" stroke-width="0.9"/><text transform="translate(191.6 86.68) scale(0.95 1)" font-size="6.7" text-anchor="middle" fill="#1a1a1a" font-weight="bold">2</text><circle cx="175.6" cy="101.4" r="4.7" fill="#fff" stroke="#222" stroke-width="0.9"/><text transform="translate(175.6 103.88) scale(0.95 1)" font-size="6.7" text-anchor="middle" fill="#1a1a1a" font-weight="bold">2</text><circle cx="228.5" cy="102.8" r="4.7" fill="#fff" stroke="#222" stroke-width="0.9"/><text transform="translate(228.5 105.28) scale(0.95 1)" font-size="6.7" text-anchor="middle" fill="#1a1a1a" font-weight="bold">8</text><circle cx="192.4" cy="118.4" r="4.7" fill="#fff" stroke="#222" stroke-width="0.9"/><text transform="translate(192.4 120.88) scale(0.95 1)" font-size="6.7" text-anchor="middle" fill="#1a1a1a" font-weight="bold">9</text><circle cx="211.6" cy="129.5" r="4.7" fill="#fff" stroke="#222" stroke-width="0.9"/><text transform="translate(211.6 131.98) scale(0.95 1)" font-size="6.7" text-anchor="middle" fill="#1a1a1a" font-weight="bold">11</text><circle cx="173.3" cy="156.1" r="4.7" fill="#fff" stroke="#222" stroke-width="0.9"/><text transform="translate(173.3 158.58) scale(0.95 1)" font-size="6.7" text-anchor="middle" fill="#1a1a1a" font-weight="bold">10</text><circle cx="225.8" cy="146.6" r="4.7" fill="#fff" stroke="#222" stroke-width="0.9"/><text transform="translate(225.8 149.08) scale(0.95 1)" font-size="6.7" text-anchor="middle" fill="#1a1a1a" font-weight="bold">14</text><circle cx="262.9" cy="114.6" r="4.7" fill="#fff" stroke="#222" stroke-width="0.9"/><text transform="translate(262.9 117.08) scale(0.95 1)" font-size="6.7" text-anchor="middle" fill="#1a1a1a" font-weight="bold">7</text><circle cx="270.5" cy="158.6" r="4.7" fill="#fff" stroke="#222" stroke-width="0.9"/><text transform="translate(270.5 161.08) scale(0.95 1)" font-size="6.7" text-anchor="middle" fill="#1a1a1a" font-weight="bold">12</text><circle cx="258.3" cy="167.4" r="4.7" fill="#fff" stroke="#222" stroke-width="0.9"/><text transform="translate(258.3 169.88) scale(0.95 1)" font-size="6.7" text-anchor="middle" fill="#1a1a1a" font-weight="bold">15</text><circle cx="206.6" cy="167.8" r="4.7" fill="#fff" stroke="#222" stroke-width="0.9"/><text transform="translate(206.6 170.28) scale(0.95 1)" font-size="6.7" text-anchor="middle" fill="#1a1a1a" font-weight="bold">19</text><circle cx="194.7" cy="181.6" r="4.7" fill="#fff" stroke="#222" stroke-width="0.9"/><text transform="translate(194.7 184.08) scale(0.95 1)" font-size="6.7" text-anchor="middle" fill="#1a1a1a" font-weight="bold">18</text><circle cx="224.4" cy="183.8" r="4.7" fill="#fff" stroke="#222" stroke-width="0.9"/><text transform="translate(224.4 186.28) scale(0.95 1)" font-size="6.7" text-anchor="middle" fill="#1a1a1a" font-weight="bold">22</text><circle cx="220.8" cy="208.7" r="4.7" fill="#fff" stroke="#222" stroke-width="0.9"/><text transform="translate(220.8 211.18) scale(0.95 1)" font-size="6.7" text-anchor="middle" fill="#1a1a1a" font-weight="bold">29</text><circle cx="189.5" cy="215.7" r="4.7" fill="#fff" stroke="#222" stroke-width="0.9"/><text transform="translate(189.5 218.18) scale(0.95 1)" font-size="6.7" text-anchor="middle" fill="#1a1a1a" font-weight="bold">30</text><circle cx="224.4" cy="239.5" r="4.7" fill="#fff" stroke="#222" stroke-width="0.9"/><text transform="translate(224.4 241.98) scale(0.95 1)" font-size="6.7" text-anchor="middle" fill="#1a1a1a" font-weight="bold">25</text><circle cx="347" cy="50" r="4.7" fill="#fff" stroke="#222" stroke-width="0.9"/><text transform="translate(347 52.48) scale(0.95 1)" font-size="6.7" text-anchor="middle" fill="#1a1a1a" font-weight="bold">2</text><circle cx="336.3" cy="66.4" r="4.7" fill="#fff" stroke="#222" stroke-width="0.9"/><text transform="translate(336.3 68.88) scale(0.95 1)" font-size="6.7" text-anchor="middle" fill="#1a1a1a" font-weight="bold">4</text><circle cx="336.7" cy="81.6" r="4.7" fill="#fff" stroke="#222" stroke-width="0.9"/><text transform="translate(336.7 84.08) scale(0.95 1)" font-size="6.7" text-anchor="middle" fill="#1a1a1a" font-weight="bold">1</text><circle cx="348.8" cy="88.7" r="4.7" fill="#fff" stroke="#222" stroke-width="0.9"/><text transform="translate(348.8 91.18) scale(0.95 1)" font-size="6.7" text-anchor="middle" fill="#1a1a1a" font-weight="bold">3</text><circle cx="378" cy="60.4" r="4.7" fill="#fff" stroke="#222" stroke-width="0.9"/><text transform="translate(378 62.88) scale(0.95 1)" font-size="6.7" text-anchor="middle" fill="#1a1a1a" font-weight="bold">2</text><circle cx="396.3" cy="71.1" r="4.7" fill="#fff" stroke="#222" stroke-width="0.9"/><text transform="translate(396.3 73.58) scale(0.95 1)" font-size="6.7" text-anchor="middle" fill="#1a1a1a" font-weight="bold">2</text><circle cx="412.7" cy="84.4" r="4.7" fill="#fff" stroke="#222" stroke-width="0.9"/><text transform="translate(412.7 86.88) scale(0.95 1)" font-size="6.7" text-anchor="middle" fill="#1a1a1a" font-weight="bold">2</text><circle cx="430" cy="101.3" r="4.7" fill="#fff" stroke="#222" stroke-width="0.9"/><text transform="translate(430 103.78) scale(0.95 1)" font-size="6.7" text-anchor="middle" fill="#1a1a1a" font-weight="bold">2</text><circle cx="376.8" cy="102.6" r="4.7" fill="#fff" stroke="#222" stroke-width="0.9"/><text transform="translate(376.8 105.08) scale(0.95 1)" font-size="6.7" text-anchor="middle" fill="#1a1a1a" font-weight="bold">8</text><circle cx="412.7" cy="118.3" r="4.7" fill="#fff" stroke="#222" stroke-width="0.9"/><text transform="translate(412.7 120.78) scale(0.95 1)" font-size="6.7" text-anchor="middle" fill="#1a1a1a" font-weight="bold">9</text><circle cx="394" cy="128.8" r="4.7" fill="#fff" stroke="#222" stroke-width="0.9"/><text transform="translate(394 131.28) scale(0.95 1)" font-size="6.7" text-anchor="middle" fill="#1a1a1a" font-weight="bold">11</text><circle cx="379.2" cy="146.6" r="4.7" fill="#fff" stroke="#222" stroke-width="0.9"/><text transform="translate(379.2 149.08) scale(0.95 1)" font-size="6.7" text-anchor="middle" fill="#1a1a1a" font-weight="bold">14</text><circle cx="431.3" cy="156.5" r="4.7" fill="#fff" stroke="#222" stroke-width="0.9"/><text transform="translate(431.3 158.98) scale(0.95 1)" font-size="6.7" text-anchor="middle" fill="#1a1a1a" font-weight="bold">10</text><circle cx="349.5" cy="154.8" r="4.7" fill="#fff" stroke="#222" stroke-width="0.9"/><text transform="translate(349.5 157.28) scale(0.95 1)" font-size="6.7" text-anchor="middle" fill="#1a1a1a" font-weight="bold">15</text><circle cx="398.4" cy="168.1" r="4.7" fill="#fff" stroke="#222" stroke-width="0.9"/><text transform="translate(398.4 170.58) scale(0.95 1)" font-size="6.7" text-anchor="middle" fill="#1a1a1a" font-weight="bold">33</text><circle cx="381" cy="184.2" r="4.7" fill="#fff" stroke="#222" stroke-width="0.9"/><text transform="translate(381 186.68) scale(0.95 1)" font-size="6.7" text-anchor="middle" fill="#1a1a1a" font-weight="bold">22</text><circle cx="419.4" cy="188.7" r="4.7" fill="#fff" stroke="#222" stroke-width="0.9"/><text transform="translate(419.4 191.18) scale(0.95 1)" font-size="6.7" text-anchor="middle" fill="#1a1a1a" font-weight="bold">34</text><circle cx="384.3" cy="208.2" r="4.7" fill="#fff" stroke="#222" stroke-width="0.9"/><text transform="translate(384.3 210.68) scale(0.95 1)" font-size="6.7" text-anchor="middle" fill="#1a1a1a" font-weight="bold">29</text><circle cx="411.2" cy="242.5" r="4.7" fill="#fff" stroke="#222" stroke-width="0.9"/><text transform="translate(411.2 244.98) scale(0.95 1)" font-size="6.7" text-anchor="middle" fill="#1a1a1a" font-weight="bold">30</text><circle cx="381" cy="239.9" r="4.7" fill="#fff" stroke="#222" stroke-width="0.9"/><text transform="translate(381 242.38) scale(0.95 1)" font-size="6.7" text-anchor="middle" fill="#1a1a1a" font-weight="bold">25</text><circle cx="391" cy="267.4" r="4.7" fill="#fff" stroke="#222" stroke-width="0.9"/><text transform="translate(391 269.88) scale(0.95 1)" font-size="6.7" text-anchor="middle" fill="#1a1a1a" font-weight="bold">31</text><circle cx="203.5" cy="257.3" r="6.6" fill="#fff" stroke="#111" stroke-width="1.2"/><text transform="translate(203.5 259.89) scale(0.95 1)" font-size="7" text-anchor="middle" fill="#1a1a1a" font-weight="bold">26</text><circle cx="366.4" cy="267.4" r="6.4" fill="#fff" stroke="#111" stroke-width="1.2"/><text transform="translate(366.4 269.99) scale(0.95 1)" font-size="7" text-anchor="middle" fill="#1a1a1a" font-weight="bold">32</text><circle cx="222.3" cy="306.8" r="4.4" fill="#fff" stroke="#333" stroke-width="0.5"/><text transform="translate(222.3 309.02) scale(0.95 1)" font-size="6" text-anchor="middle" fill="#1a1a1a" font-weight="bold">36</text><circle cx="383" cy="306.6" r="4.4" fill="#fff" stroke="#333" stroke-width="0.5"/><text transform="translate(383 308.82) scale(0.95 1)" font-size="6" text-anchor="middle" fill="#1a1a1a" font-weight="bold">36</text><text font-size="12.6" font-weight="bold" fill="#111"><textPath href="#arcR" textLength="77" lengthAdjust="spacingAndGlyphs">Правая стопа</textPath></text><text font-size="12.6" font-weight="bold" fill="#111"><textPath href="#arcL" textLength="71" lengthAdjust="spacingAndGlyphs">Левая стопа</textPath></text></svg>
</body></html>
